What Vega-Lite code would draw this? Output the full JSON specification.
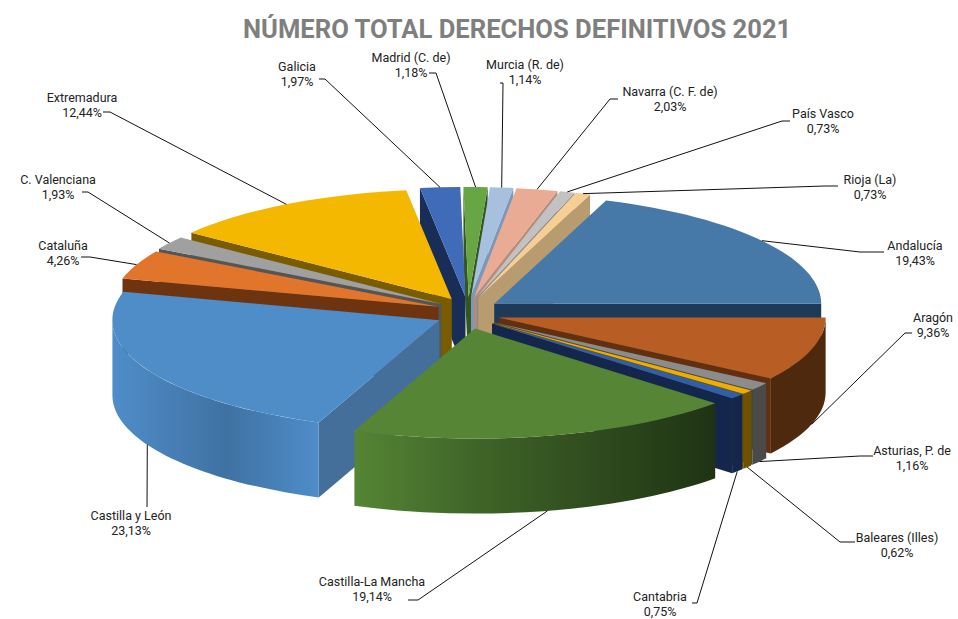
{
"$schema":"https://vega.github.io/schema/vega-lite/v6.json",
"width":958,"height":619,"padding":0,"autosize":{"type":"none"},
"background":"white",
"title":{"text":"NÚMERO TOTAL DERECHOS DEFINITIVOS 2021","font":"Roboto","fontWeight":"bold","fontSize":25.6,"color":"#7f7f7f","anchor":"start","frame":"group","dx":243,"dy":26,"offset":-38,"baseline":"alphabetic"},
"config":{"view":{"stroke":null}},
"data":{"values":[
{"region":"Andalucía","pct":19.43},
{"region":"Aragón","pct":9.36},
{"region":"Asturias, P. de","pct":1.16},
{"region":"Baleares (Illes)","pct":0.62},
{"region":"Cantabria","pct":0.75},
{"region":"Castilla-La Mancha","pct":19.14},
{"region":"Castilla y León","pct":23.13},
{"region":"Cataluña","pct":4.26},
{"region":"C. Valenciana","pct":1.93},
{"region":"Extremadura","pct":12.44},
{"region":"Galicia","pct":1.97},
{"region":"Madrid (C. de)","pct":1.18},
{"region":"Murcia (R. de)","pct":1.14},
{"region":"Navarra (C. F. de)","pct":2.03},
{"region":"País Vasco","pct":0.73},
{"region":"Rioja (La)","pct":0.73}
]},
"transform":[
{"stack":"pct","as":["c0","c1"],"offset":"zero"},
{"calculate":"(20+datum.c0*3.6)*PI/180","as":"a0"},
{"calculate":"(20+datum.c1*3.6)*PI/180","as":"a1"},
{"calculate":"(datum.a0+datum.a1)/2","as":"mid"},
{"calculate":"-cos(datum.mid)","as":"z"},
{"calculate":"468+32*sin(datum.mid)","as":"ox"},
{"calculate":"313-16*cos(datum.mid)","as":"oy"},
{"calculate":"round(327*sin(datum.a0)*100)/100","as":"xs"},
{"calculate":"round(-110*cos(datum.a0)*100)/100","as":"ys"},
{"calculate":"round(327*sin(datum.a1)*100)/100","as":"xe"},
{"calculate":"round(-110*cos(datum.a1)*100)/100","as":"ye"},
{"calculate":"'M0,0 L'+datum.xs+','+datum.ys+' A327,110 0 '+(datum.a1-datum.a0>PI?1:0)+' 1 '+datum.xe+','+datum.ye+' Z'","as":"topPath"},
{"calculate":"(sin(datum.a0)<0?'M0,0 L'+datum.xs+','+datum.ys+' L'+datum.xs+','+(datum.ys+75)+' L0,75 Z ':'')+(sin(datum.a1)>0?'M0,0 L'+datum.xe+','+datum.ye+' L'+datum.xe+','+(datum.ye+75)+' L0,75 Z':'')","as":"facePath"},
{"calculate":"max(datum.a0,PI/2)","as":"r0"},
{"calculate":"min(datum.a1,3*PI/2)","as":"r1"},
{"calculate":"round(327*sin(datum.r0)*100)/100","as":"rx0"},
{"calculate":"round(-110*cos(datum.r0)*100)/100","as":"ry0"},
{"calculate":"round(327*sin(datum.r1)*100)/100","as":"rx1"},
{"calculate":"round(-110*cos(datum.r1)*100)/100","as":"ry1"},
{"calculate":"datum.r1>datum.r0?'M'+datum.rx0+','+datum.ry0+' A327,110 0 0 1 '+datum.rx1+','+datum.ry1+' L'+datum.rx1+','+(datum.ry1+75)+' A327,110 0 0 0 '+datum.rx0+','+(datum.ry0+75)+' Z':''","as":"rimPath"},
{"calculate":"datum.ox+327*sin(datum.mid)","as":"px"},
{"calculate":"datum.oy-110*cos(datum.mid)+(cos(datum.mid)<0?75:0)","as":"py"},
{"calculate":"({'Andalucía':[915,246,884,860,252],'Aragón':[933,318,912,905,333],'Asturias, P. de':[912,451,873,860,456],'Baleares (Illes)':[897,538,855,840,542],'Cantabria':[660,597,692,697,603],'Castilla-La Mancha':[372,582,408,418,600],'Castilla y León':[131,516,147,147,507],'Cataluña':[63,246,81,90,257],'C. Valenciana':[58,180,82,88,192],'Extremadura':[82,98,103,110,112],'Galicia':[297,67,319,325,79],'Madrid (C. de)':[411,58,429,436,73],'Murcia (R. de)':[525,65,500,503,83],'Navarra (C. F. de)':[670,92,618,610,99],'País Vasco':[823,114,790,782,121],'Rioja (La)':[870,180,838,825,186]})[datum.region]","as":"L"},
{"calculate":"datum.L[0]","as":"tx"},
{"calculate":"datum.L[1]","as":"ty"},
{"calculate":"datum.L[2]","as":"sx"},
{"calculate":"datum.L[3]","as":"ex"},
{"calculate":"datum.L[4]","as":"ey"},
{"calculate":"[datum.region, replace(format(datum.pct,'.2f'),'.',',')+'%']","as":"label"}
],
"encoding":{
"x":{"field":"ox","type":"quantitative","axis":null,"scale":{"domain":[0,958],"nice":false,"zero":false}},
"y":{"field":"oy","type":"quantitative","axis":null,"scale":{"domain":[0,619],"reverse":true,"nice":false,"zero":false}}
},
"layer":[
{"transform":[{"filter":"datum.facePath!==''"}],
 "mark":{"type":"point","filled":true,"opacity":1,"size":4,"strokeWidth":0},
 "encoding":{
  "shape":{"field":"facePath","type":"nominal","scale":null},
  "order":{"field":"z","type":"quantitative"},
  "color":{"field":"region","type":"nominal","legend":null,"scale":{"domain":["Andalucía","Aragón","Asturias, P. de","Baleares (Illes)","Cantabria","Castilla-La Mancha","Castilla y León","Cataluña","C. Valenciana","Extremadura","Galicia","Madrid (C. de)","Murcia (R. de)","Navarra (C. F. de)","País Vasco","Rioja (La)"],"range":["#1f3a58","#60300f","#4a4a4a","#6f5200","#15264d","#2c451c","#436f9a","#6e340f","#555555","#7a5c00","#182e57","#35561f","#7d97b8","#b88a78","#8a8a8a","#b89c70"]}}
 }},
{"transform":[{"filter":"datum.rimPath!=='' && datum.region!=='Castilla-La Mancha' && datum.region!=='Castilla y León'"}],
 "mark":{"type":"point","filled":true,"opacity":1,"size":4,"strokeWidth":0},
 "encoding":{
  "shape":{"field":"rimPath","type":"nominal","scale":null},
  "order":{"field":"z","type":"quantitative"},
  "color":{"field":"region","type":"nominal","legend":null,"scale":{"domain":["Aragón","Asturias, P. de","Baleares (Illes)","Cantabria"],"range":["#4f290e","#4a4a4a","#6f5200","#15264d"]}}
 }},
{"transform":[{"filter":"datum.region==='Castilla y León'"}],
 "mark":{"type":"point","filled":true,"opacity":1,"size":4,"strokeWidth":0,"fill":{"gradient":"linear","x1":0,"x2":1,"y1":0,"y2":0,"stops":[{"offset":0,"color":"#4f8dc8"},{"offset":0.55,"color":"#3f72a3"},{"offset":1,"color":"#4f8dc8"}]}},
 "encoding":{"shape":{"field":"rimPath","type":"nominal","scale":null}}},
{"transform":[{"filter":"datum.region==='Castilla-La Mancha'"}],
 "mark":{"type":"point","filled":true,"opacity":1,"size":4,"strokeWidth":0,"fill":{"gradient":"linear","x1":0,"x2":1,"y1":0,"y2":0,"stops":[{"offset":0,"color":"#558535"},{"offset":0.35,"color":"#3e6327"},{"offset":1,"color":"#1f3314"}]}},
 "encoding":{"shape":{"field":"rimPath","type":"nominal","scale":null}}},
{"mark":{"type":"point","filled":true,"opacity":1,"size":4,"strokeWidth":0},
 "encoding":{
  "shape":{"field":"topPath","type":"nominal","scale":null},
  "order":{"field":"z","type":"quantitative"},
  "color":{"field":"region","type":"nominal","legend":null,"scale":{"domain":["Andalucía","Aragón","Asturias, P. de","Baleares (Illes)","Cantabria","Castilla-La Mancha","Castilla y León","Cataluña","C. Valenciana","Extremadura","Galicia","Madrid (C. de)","Murcia (R. de)","Navarra (C. F. de)","País Vasco","Rioja (La)"],"range":["#4678a8","#b85d24","#8c8c8c","#eeae00","#2f5fab","#558535","#4f8dc8","#e2752c","#a0a0a0","#f4b800","#3f6bb8","#68a545","#a6c0de","#e9ab93","#c2c2c2","#f5cf94"]}}
 }},
{"mark":{"type":"rule","color":"#111111","strokeWidth":1},
 "encoding":{
  "x":{"field":"ex","type":"quantitative"},"y":{"field":"ey","type":"quantitative"},
  "x2":{"field":"px"},"y2":{"field":"py"}}},
{"mark":{"type":"rule","color":"#111111","strokeWidth":1},
 "encoding":{
  "x":{"field":"ex","type":"quantitative"},"y":{"field":"ey","type":"quantitative"},
  "x2":{"field":"sx"},"y2":{"field":"ey"}}},
{"mark":{"type":"text","font":"Roboto","fontSize":12.5,"lineHeight":14.5,"align":"center","baseline":"middle","color":"#222222"},
 "encoding":{
  "x":{"field":"tx","type":"quantitative"},"y":{"field":"ty","type":"quantitative"},
  "text":{"field":"label"}}}
],
"resolve":{"scale":{"color":"independent"}}
}
